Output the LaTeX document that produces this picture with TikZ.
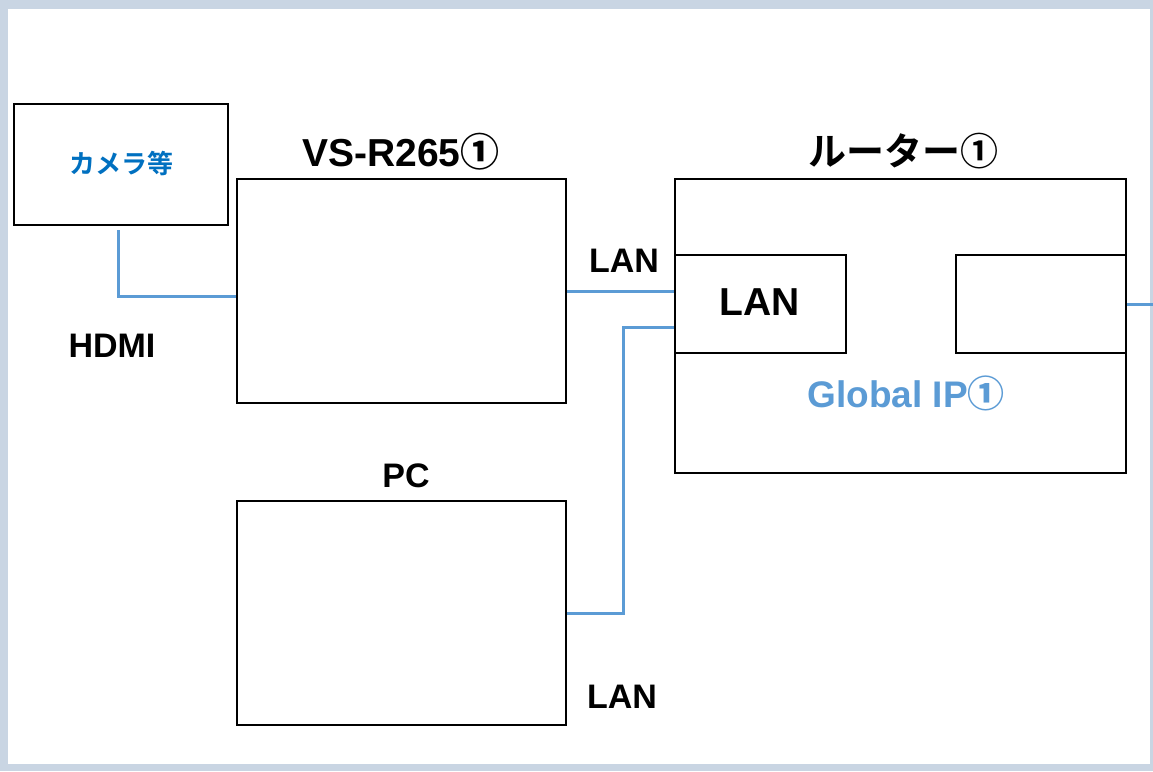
\documentclass[tikz,border=0pt]{standalone}
\usepackage{fontspec}
\setmainfont{Liberation Sans}
\newfontfamily\jp{Noto Sans CJK JP Bold}
\definecolor{frame}{HTML}{C9D5E3}
\definecolor{wire}{HTML}{5B9BD5}
\definecolor{camblue}{HTML}{0070C0}
\begin{document}
\begin{tikzpicture}[x=1pt, y=-1pt,
		box/.style = {draw, line width=2.5pt, inner sep=0pt, minimum width=#1},
		link/.style = {draw=wire, line width=3pt},
		lbl/.style = {anchor=base, inner sep=0pt, font=\fontsize{34}{36}\selectfont\bfseries},
		big/.style = {anchor=base, inner sep=0pt, font=\fontsize{39}{42}\selectfont\bfseries}]
		% frame
		\fill[frame] (0,0) rectangle (1153,771);
		\fill[white] (8,9) rectangle (1150,764);
		\useasboundingbox (0,0) rectangle (1153,771);
		% boxes
		\node[box=214pt, minimum height=121pt] (cam) at (121,164.5) {};
		\node[box=329pt, minimum height=224pt] (vsr) at (401.5,291) {};
		\node[box=329pt, minimum height=224pt] (pc) at (401.5,613) {};
		\node[box=451pt, minimum height=294pt] (rtr) at (900.5,326) {};
		\node[box=171pt, minimum height=98pt] (lan) at (760.5,304) {};
		\node[box=170pt, minimum height=98pt] (wan) at (1041,304) {};
		% texts
		\node[anchor=base, inner sep=0pt, text=camblue, font=\jp\fontsize{26}{28}\selectfont] (camtxt) at (121,173) {カメラ等};
		\node[big] (vsrtxt) at (401,166) {VS-R265{\jp ①}};
		\node[big, font=\jp\fontsize{38}{40}\selectfont] (rtrtxt) at (903,165) {ルーター①};
		\node[lbl] (pctxt) at (406,487) {PC};
		\node[big] (lantxt) at (760,315) {LAN};
		\node[lbl, text=wire, font=\fontsize{37}{40}\selectfont\bfseries] (gip) at (906,407) {Global IP{\jp ①}};
		\node[lbl] (hdmi) at (112,357) {HDMI};
		\node[lbl] (lan1) at (624,272) {LAN};
		\node[lbl] (lan2) at (622,708) {LAN};
		% connectors
		\coordinate (edge) at (1153,304);
		\draw[link] ([xshift=-3pt, yshift=-4pt]cam.south) |- ([yshift=-5pt]vsr.west);
		\draw[link] (vsr.east) -- (vsr.east -| lan.west);
		\draw[link] (pc.east) -- ++(56,0) |- ([yshift=-23pt]lan.west);
		\draw[link] (wan.east) -- (edge);
\end{tikzpicture}
\end{document}
